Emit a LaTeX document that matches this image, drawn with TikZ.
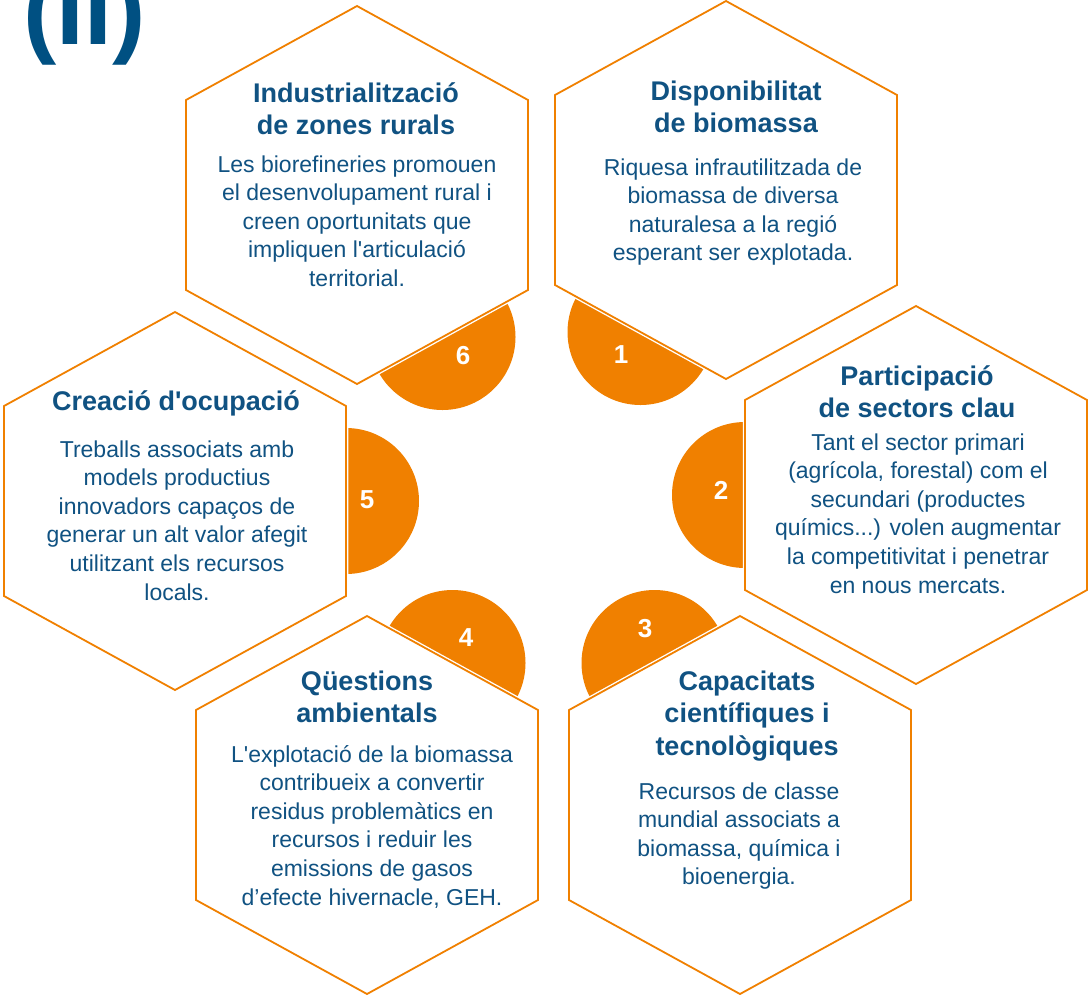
\documentclass[tikz,border=0pt]{standalone}
\usepackage{fontspec}
\setmainfont{Liberation Sans}[Ligatures=TeXOff]
\definecolor{hexorange}{RGB}{240,128,0}
\definecolor{txtblue}{RGB}{16,82,130}
\definecolor{ttblue}{RGB}{0,80,130}
\tikzset{
  hexa/.style={fill=white, draw=hexorange, line width=1.8pt, preaction={draw=white, line width=4.5pt}},
  hexagon/.pic={\path[hexa] (0,-189) -- (171,-95) -- (171,95) -- (0,189) -- (-171,95) -- (-171,-95) -- cycle;},
  numdisc/.style={fill=hexorange},
  numlab/.style={text=white, font=\bfseries\fontsize{26}{26}\selectfont, inner sep=0pt},
  hextitle/.style={text=txtblue, font=\bfseries\fontsize{27}{32.5}\selectfont, align=center, inner sep=0pt, anchor=base},
  hexbody/.style={text=txtblue, font=\fontsize{23}{28.6}\selectfont, align=center, inner sep=0pt, anchor=base},
  bigtitle/.style={text=ttblue, font=\bfseries\fontsize{100}{100}\selectfont, inner sep=0pt, anchor=base west},
}
\begin{document}
\begin{tikzpicture}[x=1pt,y=-1pt]
\useasboundingbox (0,0) rectangle (1089,994);
\clip (0,0) rectangle (1089,994);
% hexagon centres
\coordinate (h6) at (357,195);
\coordinate (h1) at (726,190);
\coordinate (h2) at (916,495);
\coordinate (h3) at (740,805);
\coordinate (h4) at (367,805);
\coordinate (h5) at (175,501);
% disc centres
\coordinate (c6) at (442.5,337);
\coordinate (c1) at (640.5,332);
\coordinate (c2) at (745,495);
\coordinate (c3) at (654.5,663);
\coordinate (c4) at (452.5,663);
\coordinate (c5) at (346,501);
% title fragment
\node[bigtitle] (tt) at (23,44) {(II)};
% discs
\foreach \c in {c1,c2,c3,c4,c5,c6} \fill[numdisc] (\c) circle[radius=73];
% hexagons
\foreach \h in {h1,h2,h3,h4,h5,h6} \pic at (\h) {hexagon};
% numbers
\node[numlab] (n6) at (463,356) {6};
\node[numlab] (n1) at (621,355) {1};
\node[numlab] (n2) at (721,490) {2};
\node[numlab] (n3) at (645,629) {3};
\node[numlab] (n4) at (466,638) {4};
\node[numlab] (n5) at (367,500) {5};
% texts (base anchor = baseline of the last line)
\node[hextitle] (t6) at (356,134.5) {Industrialització\\de zones rurals};
\node[hexbody] (b6) at (357,286.4) {Les biorefineries promouen\\el desenvolupament rural i\\creen oportunitats que\\impliquen l'articulació\\territorial.};
\node[hextitle] (t1) at (736,132.5) {Disponibilitat\\de biomassa};
\node[hexbody] (b1) at (733,260.8) {Riquesa infrautilitzada de\\biomassa de diversa\\naturalesa a la regió\\esperant ser explotada.};
\node[hextitle] (t2) at (917,417.5) {Participació\\de sectors clau};
\node[hexbody] (b2) at (918,593) {Tant el sector primari\\(agrícola, forestal) com el\\secundari (productes\\químics...) volen augmentar\\la competitivitat i penetrar\\en nous mercats.};
\node[hextitle] (t3) at (747,755) {Capacitats\\científiques i\\tecnològiques};
\node[hexbody] (b3) at (739,884.8) {Recursos de classe\\mundial associats a\\biomassa, química i\\bioenergia.};
\node[hextitle] (t4) at (367,722.5) {Qüestions\\ambientals};
\node[hexbody] (b4) at (372,905) {L'explotació de la biomassa\\contribueix a convertir\\residus problemàtics en\\recursos i reduir les\\emissions de gasos\\d’efecte hivernacle, GEH.};
\node[hextitle] (t5) at (176,410) {Creació d'ocupació};
\node[hexbody] (b5) at (177,600) {Treballs associats amb\\models productius\\innovadors capaços de\\generar un alt valor afegit\\utilitzant els recursos\\locals.};
\end{tikzpicture}
\end{document}
